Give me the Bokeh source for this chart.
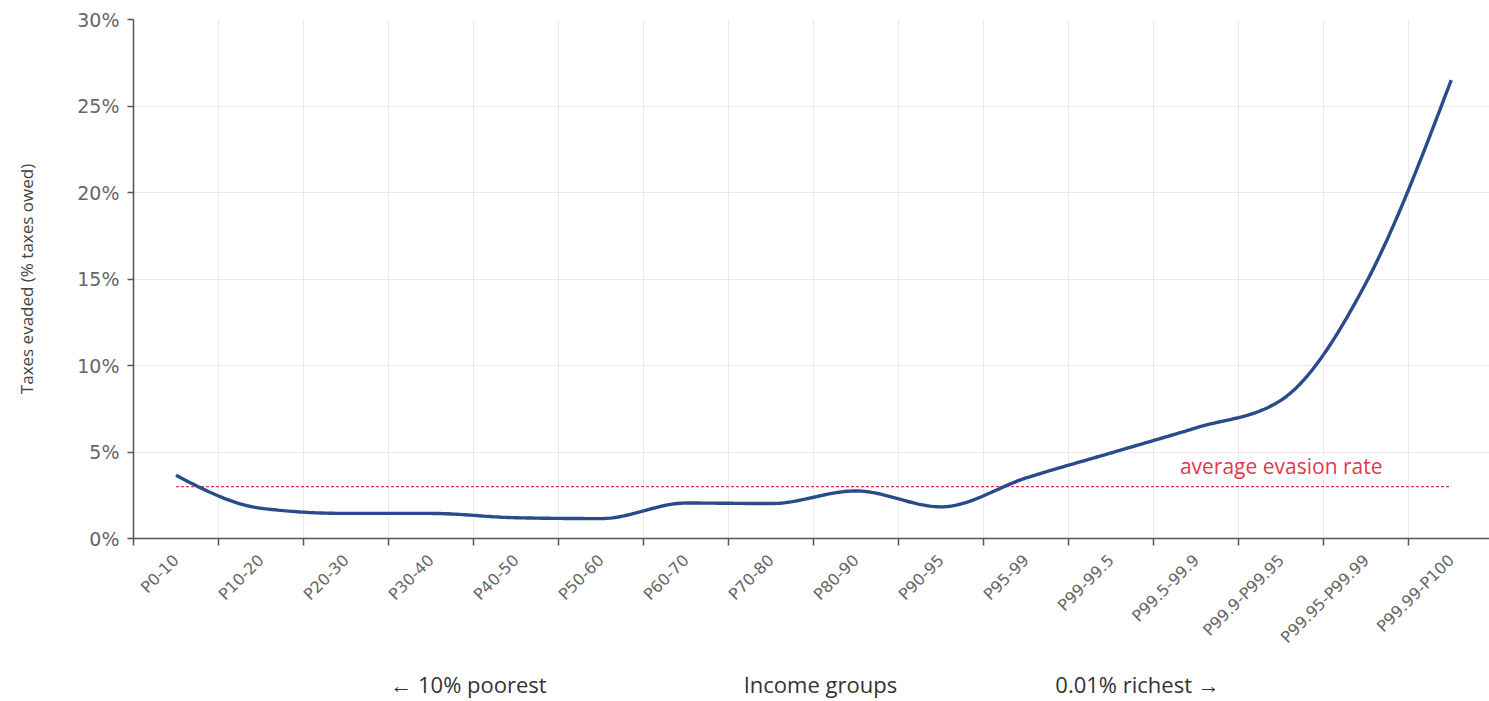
import numpy as np
from bokeh.plotting import figure
from bokeh.models import Range1d, FixedTicker, PrintfTickFormatter, Label, LinearAxis
from bokeh.embed import file_html
from bokeh.resources import INLINE

# ---- data ----
groups = ["P0-10", "P10-20", "P20-30", "P30-40", "P40-50", "P50-60", "P60-70",
          "P70-80", "P80-90", "P90-95", "P95-99", "P99-99.5", "P99.5-99.9",
          "P99.9-P99.95", "P99.95-P99.99", "P99.99-P100"]
evaded = [3.65, 1.75, 1.45, 1.45, 1.2, 1.15, 2.05, 2.02, 2.75, 1.83, 3.5,
          4.95, 6.4, 8.0, 14.8, 26.5]
average_rate = 3.0
y_ticks = [0, 5, 10, 15, 20, 25, 30]
bottom_texts = ["\u2190 10% poorest", "Income groups", "0.01% richest \u2192"]
bottom_pos = [3.94, 8.08, 11.81]

n = len(groups)
centers = np.arange(n) + 0.5
bounds = list(range(n + 1))


def monotone_curve(x, y, per_seg=30):
    """Monotone cubic (d3 curveMonotoneX style) rendering of the series."""
    x = np.asarray(x, float)
    y = np.asarray(y, float)
    h = np.diff(x)
    s = np.diff(y) / h
    t = np.zeros_like(y)
    for i in range(1, len(y) - 1):
        s0, s1 = s[i - 1], s[i]
        p_ = (s0 * h[i] + s1 * h[i - 1]) / (h[i - 1] + h[i])
        t[i] = (np.sign(s0) + np.sign(s1)) * min(abs(s0), abs(s1), 0.5 * abs(p_))
    t[0] = (3 * s[0] - t[1]) / 2
    t[-1] = (3 * s[-1] - t[-2]) / 2
    xs, ys = [], []
    for i in range(len(y) - 1):
        u = np.linspace(0, 1, per_seg, endpoint=(i == len(y) - 2))
        h00 = 2 * u**3 - 3 * u**2 + 1
        h10 = u**3 - 2 * u**2 + u
        h01 = -2 * u**3 + 3 * u**2
        h11 = u**3 - u**2
        xs.extend(x[i] + u * h[i])
        ys.extend(h00 * y[i] + h10 * h[i] * t[i] + h01 * y[i + 1] + h11 * h[i] * t[i + 1])
    return xs, ys


cx, cy = monotone_curve(centers, evaded)

p = figure(width=1489, height=701, x_range=Range1d(0, 15.95), y_range=Range1d(0, 30),
           output_backend="svg", toolbar_location=None,
           min_border_left=133, min_border_top=19, min_border_bottom=163,
           min_border_right=0)
p.outline_line_color = None
p.background_fill_color = "white"

# grids
p.xgrid.ticker = FixedTicker(ticks=bounds)
p.ygrid.ticker = FixedTicker(ticks=y_ticks)
p.xgrid.grid_line_color = "#e9e9e9"
p.ygrid.grid_line_color = "#e9e9e9"

# x axis
xa = p.xaxis[0]
xa.ticker = FixedTicker(ticks=list(centers), minor_ticks=bounds)
xa.major_label_overrides = {float(c): g for c, g in zip(centers, groups)}
xa.major_label_orientation = np.pi / 4
xa.major_tick_line_color = None
xa.major_tick_out = 0
xa.major_tick_in = 0
xa.minor_tick_line_color = "#555555"
xa.minor_tick_line_width = 1.5
xa.minor_tick_out = 7
xa.minor_tick_in = 0
xa.axis_line_color = "#555555"
xa.axis_line_width = 1.5
xa.major_label_text_font = "DejaVu Sans"
xa.major_label_text_font_size = "16px"
xa.major_label_text_color = "#666666"
xa.major_label_standoff = 12

# second row of texts below the category labels
ba = LinearAxis(ticker=FixedTicker(ticks=bottom_pos))
ba.major_label_overrides = {float(x): t for x, t in zip(bottom_pos, bottom_texts)}
ba.axis_line_color = None
ba.major_tick_line_color = None
ba.minor_tick_line_color = None
ba.major_label_text_font = "Open Sans"
ba.major_label_text_font_size = "22px"
ba.major_label_text_color = "#333333"
ba.major_label_standoff = 6
p.add_layout(ba, "below")

# y axis
ya = p.yaxis[0]
ya.ticker = FixedTicker(ticks=y_ticks)
ya.formatter = PrintfTickFormatter(format="%d%%")
ya.minor_tick_line_color = None
ya.major_tick_line_color = "#555555"
ya.major_tick_line_width = 1.5
ya.major_tick_out = 6
ya.major_tick_in = 0
ya.axis_line_color = "#555555"
ya.axis_line_width = 1.5
ya.major_label_text_font = "DejaVu Sans"
ya.major_label_text_font_size = "19px"
ya.major_label_text_color = "#666666"
ya.major_label_standoff = 8
ya.axis_label = "Taxes evaded (% taxes owed)"
ya.axis_label_text_font = "Open Sans"
ya.axis_label_text_font_style = "normal"
ya.axis_label_text_font_size = "17px"
ya.axis_label_text_color = "#444444"
ya.axis_label_standoff = 36

# average line
p.line(x=[centers[0], centers[-1]], y=[average_rate, average_rate],
       line_color="#e0394f", line_width=1.2, line_dash="3 2")
p.add_layout(Label(x=centers[13], y=average_rate, text="average evasion rate",
                   text_align="center", text_baseline="bottom", y_offset=7,
                   text_font="Open Sans", text_font_size="21px",
                   text_color="#e0394f"))

# main line
p.line(cx, cy, line_color="#2b4a8c", line_width=3.4)

open("out.html", "w").write(file_html(p, INLINE))
